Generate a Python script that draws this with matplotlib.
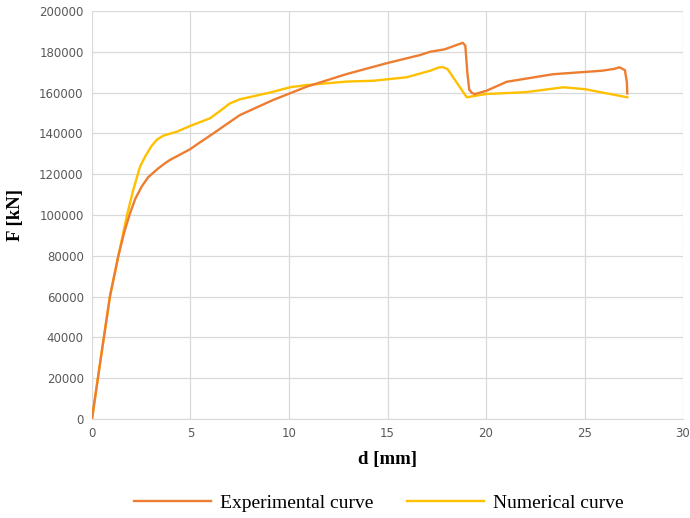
"""Force-displacement curves: experimental vs numerical."""
import matplotlib.pyplot as plt

# Experimental curve (d in mm, F in kN)
EXP_D = [0.0, 0.45, 0.91, 1.34, 1.65, 1.93, 2.2, 2.52, 2.85, 3.37, 3.7, 3.96,
         4.47, 4.97, 5.5, 6.16, 7.51, 9.2, 10.9, 12.93, 14.96, 16.65, 17.16,
         17.9, 18.5, 18.82, 18.95, 19.05, 19.15, 19.3, 19.44, 20.0, 21.05,
         23.4, 25.87, 26.5, 26.77, 27.05, 27.15, 27.17]
EXP_F = [0, 30000, 60000, 80000, 92000, 100800, 108000, 113900, 118500, 122900,
         125300, 127000, 129600, 132200, 135700, 140000, 149000, 156400, 162900,
         169100, 174400, 178400, 180000, 181200, 183300, 184400, 183000, 170000,
         161300, 159700, 159300, 160800, 165300, 169000, 170700, 171600, 172400,
         171000, 165000, 159600]

# Numerical curve
NUM_D = [0.0, 0.45, 0.91, 1.34, 1.76, 2.1, 2.44, 2.69, 3.0, 3.28, 3.6, 3.9,
         4.3, 4.97, 5.99, 6.5, 7.0, 7.5, 9.03, 10.05, 10.9, 12.93, 14.28, 15.97,
         17.16, 17.6, 17.8, 18.05, 19.02, 20.0, 22.0, 23.93, 25.0, 27.17]
NUM_F = [0, 30000, 60000, 80000, 99200, 112500, 123700, 128500, 133500, 136800,
         138800, 139700, 140800, 143600, 147400, 151000, 154700, 156700, 160000,
         162600, 163700, 165400, 165800, 167500, 170700, 172300, 172500, 171500,
         157700, 159300, 160200, 162600, 161700, 157700]

X_TICKS = [0, 5, 10, 15, 20, 25, 30]
Y_TICKS = list(range(0, 200001, 20000))


def main():
    fig = plt.figure(figsize=(6.9, 5.18), dpi=100)
    ax = fig.add_axes([0.1333, 0.1911, 0.8566, 0.7877])

    ax.plot(EXP_D, EXP_F, color="#ED7D31", lw=1.7, label="Experimental curve",
            solid_joinstyle="round", zorder=3)
    ax.plot(NUM_D, NUM_F, color="#FFC000", lw=1.7, label="Numerical curve",
            solid_joinstyle="round", zorder=2)

    ax.set_xlim(0, 30)
    ax.set_ylim(0, 200000)
    ax.set_xticks(X_TICKS)
    ax.set_yticks(Y_TICKS)
    ax.set_yticklabels([str(v) for v in Y_TICKS])
    ax.grid(True, color="#d9d9d9", lw=0.9)
    ax.set_axisbelow(True)
    for side in ["top", "right", "left"]:
        ax.spines[side].set_visible(False)
    ax.spines["bottom"].set_color("#d9d9d9")
    ax.tick_params(length=0, labelsize=8.5, labelcolor="#595959", pad=6)

    serif = ["Liberation Serif", "DejaVu Serif"]
    ax.set_xlabel("d [mm]", family=serif, fontweight="bold", fontsize=13.5,
                  labelpad=8)
    ax.set_ylabel("F [kN]", family=serif, fontweight="bold", fontsize=13.5,
                  labelpad=11)

    ax.legend(loc="center", bbox_to_anchor=(0.485, -0.206), ncol=2,
              frameon=False, prop={"family": serif, "size": 14},
              handlelength=4.0, handletextpad=0.45, columnspacing=1.7)

    fig.savefig("out.png", dpi=100)


if __name__ == "__main__":
    main()
